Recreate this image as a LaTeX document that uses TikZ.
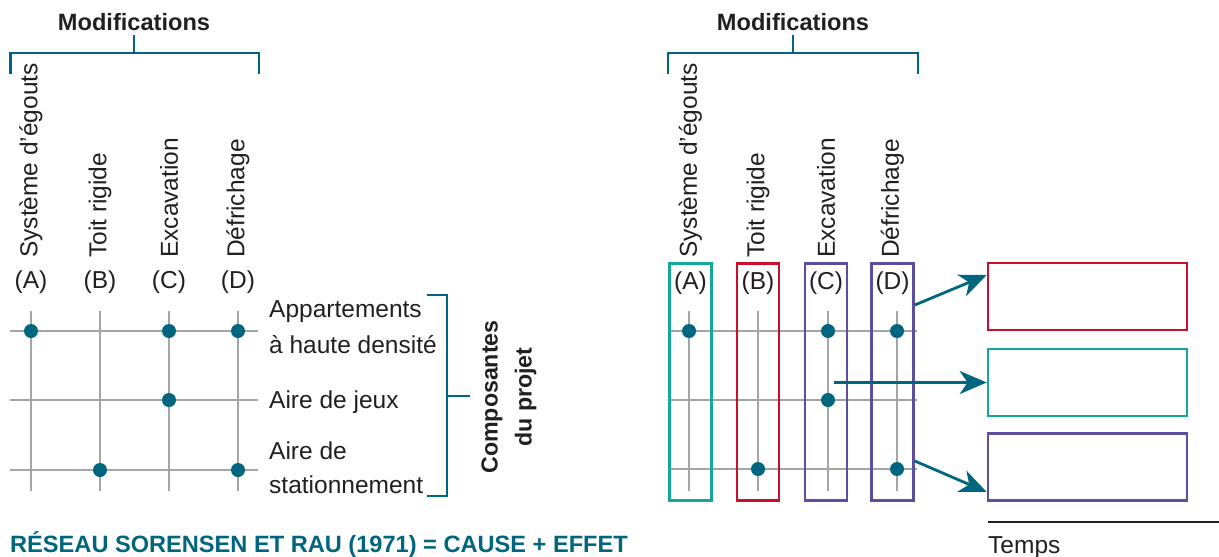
\documentclass[tikz,border=0pt]{standalone}
\usepackage{fontspec}
\setmainfont{Liberation Sans}
\usetikzlibrary{arrows.meta}
\definecolor{tealblue}{HTML}{00667F}
\definecolor{gridgray}{HTML}{A3A5A8}
\definecolor{boxteal}{HTML}{14A89A}
\definecolor{boxred}{HTML}{C8102E}
\definecolor{boxpurple}{HTML}{5C4F9E}
\definecolor{ink}{HTML}{231F20}
\begin{document}
\begin{tikzpicture}[x=1pt,y=-1pt,
  title/.style={font=\bfseries\fontsize{23.6}{26}\selectfont, text=ink, inner sep=0},
  lbl/.style={font=\fontsize{24.5}{28}\selectfont, text=ink, inner sep=0},
  vlbl/.style={lbl, rotate=90, anchor=west},
  brk/.style={draw=tealblue, line width=2.6pt},
  gridline/.style={draw=gridgray, line width=1.4pt},
  dot/.style={circle, fill=tealblue, minimum size=14pt, inner sep=0},
  colbox/.style={draw, line width=2.6pt, minimum width=42pt, minimum height=237pt, inner sep=0},
  resbox/.style={draw, line width=2.6pt, minimum width=199pt, minimum height=67pt, inner sep=0},
  link/.style={draw=tealblue, line width=2.8pt, -{Stealth[length=27pt,width=23pt,inset=8pt]}}]
\useasboundingbox (0,0) rectangle (1219,557);

% ---------- left panel: cause matrix ----------
\node[title] (modL) at (134,22) {Modifications};
\draw[brk] (10.5,74) -- (10.5,53) -- (259,53) -- (259,74);
\draw[brk] (134,53) -- (134,35);

\foreach \n/\x/\txt in {A/31/Système d’égouts, B/100/Toit rigide, C/169/Excavation, D/238/Défrichage}{
  \node[vlbl] (vL\n) at (\x,258) {\txt};
  \node[lbl] (pL\n) at (\x,282) {(\n)};
  \draw[gridline] (\x,311) -- (\x,491);
}
\foreach \y in {331, 400, 470}{
  \draw[gridline] (10,\y) -- (258,\y);
}
\node[dot] (dLA1) at (31,331) {};
\node[dot] (dLC1) at (169,331) {};
\node[dot] (dLD1) at (238,331) {};
\node[dot] (dLC2) at (169,400) {};
\node[dot] (dLB3) at (100,470) {};
\node[dot] (dLD3) at (238,470) {};

\node[lbl, anchor=base west] (r1a) at (269,317) {Appartements};
\node[lbl, anchor=base west] (r1b) at (269,353) {à haute densité};
\node[lbl, anchor=base west] (r2)  at (269,408) {Aire de jeux};
\node[lbl, anchor=base west] (r3a) at (269,459) {Aire de};
\node[lbl, anchor=base west] (r3b) at (269,493) {stationnement};

\draw[brk] (427,295) -- (447,295) -- (447,496) -- (427,496);
\draw[brk] (447,396) -- (470,396);
\node[title, rotate=90, align=center, font=\bfseries\fontsize{23.2}{34}\selectfont] (comp) at (509,397) {Composantes\\du projet};

\node[font=\bfseries\fontsize{23.6}{28}\selectfont, text=tealblue, inner sep=0, anchor=base west] (cap) at (10,552)
  {RÉSEAU SORENSEN ET RAU (1971) = CAUSE + EFFET};

% ---------- right panel: grouped by time ----------
\node[title] (modR) at (793,22) {Modifications};
\draw[brk] (668,74) -- (668,53) -- (918,53) -- (918,74);
\draw[brk] (793,53) -- (793,35);

\foreach \y in {331, 400, 469}{
  \draw[gridline] (668,\y) -- (917,\y);
}
\foreach \n/\x/\bx/\c/\txt in {A/689/690.5/boxteal/Système d’égouts, B/758/758/boxred/Toit rigide, C/828/826/boxpurple/Excavation, D/897/892.5/boxpurple/Défrichage}{
  \node[vlbl] (vR\n) at (\bx,258) {\txt};
  \node[colbox, draw=\c] (box\n) at (\bx,382) {};
  \node[lbl] (pR\n) at (\bx,283) {(\n)};
  \draw[gridline] (\x,311) -- (\x,491);
}
\node[dot] (dRA1) at (689,331) {};
\node[dot] (dRC1) at (828,331) {};
\node[dot] (dRD1) at (897,331) {};
\node[dot] (dRC2) at (828,400) {};
\node[dot] (dRB3) at (758,469) {};
\node[dot] (dRD3) at (897,469) {};

\node[resbox, draw=boxred]    (resR) at (1087.5,296.5) {};
\node[resbox, draw=boxteal]   (resT) at (1087.5,382.5) {};
\node[resbox, draw=boxpurple] (resP) at (1087.5,467) {};

\coordinate (cStart) at (834,382.5);
\draw[link] ([yshift=77pt]boxD.east) -- ([yshift=21.5pt]resR.west);
\draw[link] (cStart) -- (resT.west);
\draw[link] ([yshift=-79pt]boxD.east) -- ([yshift=-25pt]resP.west);

\coordinate (tL) at (988,522);
\coordinate (tR) at (1219,522);
\draw[draw=ink, line width=1.3pt] (tL) -- (tR);
\node[lbl, anchor=base west] (temps) at (988,553) {Temps};
\end{tikzpicture}
\end{document}
